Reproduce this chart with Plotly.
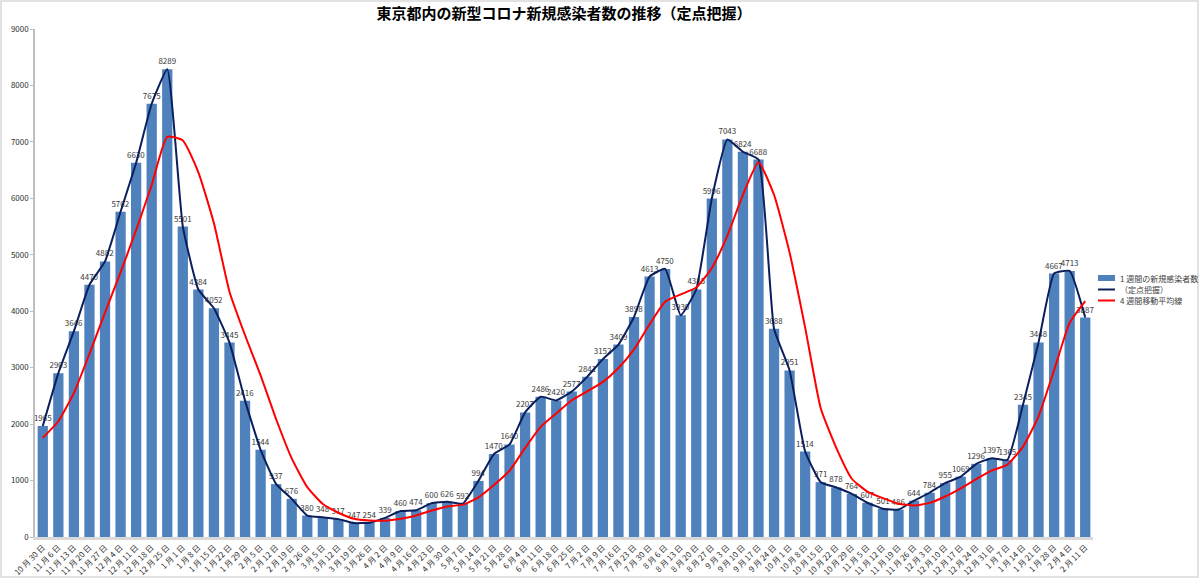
import plotly.graph_objects as go

dates = ["10月30日","11月6日","11月13日","11月20日","11月27日","12月4日","12月11日","12月18日","12月25日",
         "1月1日","1月8日","1月15日","1月22日","1月29日","2月5日","2月12日","2月19日","2月26日",
         "3月5日","3月12日","3月19日","3月26日","4月2日","4月9日","4月16日","4月23日","4月30日",
         "5月7日","5月14日","5月21日","5月28日","6月4日","6月11日","6月18日","6月25日",
         "7月2日","7月9日","7月16日","7月23日","7月30日","8月6日","8月13日","8月20日","8月27日",
         "9月3日","9月10日","9月17日","9月24日","10月1日","10月8日","10月15日","10月22日","10月29日",
         "11月5日","11月12日","11月19日","11月26日","12月3日","12月10日","12月17日","12月24日","12月31日",
         "1月7日","1月14日","1月21日","1月28日","2月4日","2月11日"]

weekly = [1965,2903,3646,4470,4882,5762,6630,7675,8289,5501,4384,4052,3445,2416,1544,937,676,380,
          348,317,247,254,339,460,474,600,626,592,994,1470,1640,2207,2486,2420,2577,2841,3152,3409,
          3898,4613,4750,3930,4385,5996,7043,6824,6688,3688,2951,1514,971,878,764,607,501,486,644,
          784,955,1069,1296,1397,1365,2345,3448,4667,4713,3887]

moving_avg = [1757,2051,2553,3246,3975,4690,5436,6237,7089,7024,6462,5557,4346,3574,2864,2086,1393,
              884,585,430,323,292,289,325,382,468,540,573,703,921,1174,1578,1951,2188,2423,2581,
              2748,2995,3325,3768,4168,4298,4420,4765,5339,6062,6638,6061,5038,3710,2281,1579,1032,
              805,688,590,560,604,717,863,1026,1179,1282,1601,2139,2956,3793,4179]

legend_names = ["1 週間の新規感染者数", "（定点把握）", "4 週間移動平均線"]

tick_labels = [d.replace("月", " 月 ").replace("日", " 日") for d in dates]

FONT = "Noto Sans CJK JP"
BAR_COLOR = "#4F81BD"
NAVY = "#0B1F5C"
RED = "#FF0000"

fig = go.Figure()
fig.add_trace(go.Bar(
    x=tick_labels, y=weekly, name=legend_names[0],
    marker=dict(color=BAR_COLOR, line=dict(width=0)),
    text=[str(v) for v in weekly], textposition="outside", textangle=0,
    constraintext="none", cliponaxis=False,
    textfont=dict(size=8, color="#3A3A3A", family=FONT),
))
fig.add_trace(go.Scatter(
    x=tick_labels, y=weekly, name=legend_names[1], mode="lines",
    line=dict(color=NAVY, width=2, shape="spline", smoothing=0.4),
))
fig.add_trace(go.Scatter(
    x=tick_labels, y=moving_avg, name=legend_names[2], mode="lines",
    line=dict(color=RED, width=2, shape="spline", smoothing=0.5),
))

W, H = 1200, 579
L, R, T, B = 35, 107, 29, 42
pw, ph = W - L - R, H - T - B

def px_x(p):
    return (p - L) / pw

def px_y(p):
    return (H - B - p) / ph

shapes = [dict(type="rect", xref="paper", yref="paper",
               x0=px_x(1), x1=px_x(1198), y0=px_y(577), y1=px_y(1),
               line=dict(color="#D9D9D9", width=1.5), layer="below")]
annotations = []

# manual legend
leg_x0, leg_x1, leg_text_x = 1098, 1115, 1118
leg_ys = [278, 289.5, 300.5]
shapes.append(dict(type="rect", xref="paper", yref="paper",
                   x0=px_x(leg_x0), x1=px_x(leg_x1), y0=px_y(leg_ys[0] + 3), y1=px_y(leg_ys[0] - 3),
                   fillcolor=BAR_COLOR, line=dict(width=0)))
for yy, col in [(leg_ys[1], NAVY), (leg_ys[2], RED)]:
    shapes.append(dict(type="line", xref="paper", yref="paper",
                       x0=px_x(leg_x0), x1=px_x(leg_x1), y0=px_y(yy), y1=px_y(yy),
                       line=dict(color=col, width=2)))
for yy, name in zip(leg_ys, legend_names):
    annotations.append(dict(xref="paper", yref="paper", x=px_x(leg_text_x), y=px_y(yy),
                            xanchor="left", yanchor="middle", text=name, showarrow=False,
                            font=dict(size=8, color="#404040", family=FONT)))

fig.update_layout(
    width=W, height=H,
    margin=dict(l=L, r=R, t=T, b=B),
    paper_bgcolor="white", plot_bgcolor="white",
    font=dict(family=FONT, size=8, color="#404040"),
    title=dict(text="<b>東京都内の新型コロナ新規感染者数の推移（定点把握）</b>",
               x=0.5, xref="paper", xanchor="center", y=0.976, yanchor="middle",
               font=dict(size=15, color="black", family=FONT)),
    bargap=0.34,
    showlegend=False,
    shapes=shapes,
    annotations=annotations,
    xaxis=dict(type="category", tickangle=-45, showgrid=False, automargin=False,
               showline=True, linecolor="#D9D9D9", linewidth=2.5, ticks="",
               tickfont=dict(size=8, color="#303030")),
    yaxis=dict(range=[0, 9000], dtick=1000, showgrid=False, automargin=False,
               showline=True, linecolor="#BFBFBF", linewidth=1.5,
               ticks="outside", ticklen=3, tickcolor="#BFBFBF",
               tickfont=dict(size=8, color="#303030")),
)

fig.write_html("out.html")
